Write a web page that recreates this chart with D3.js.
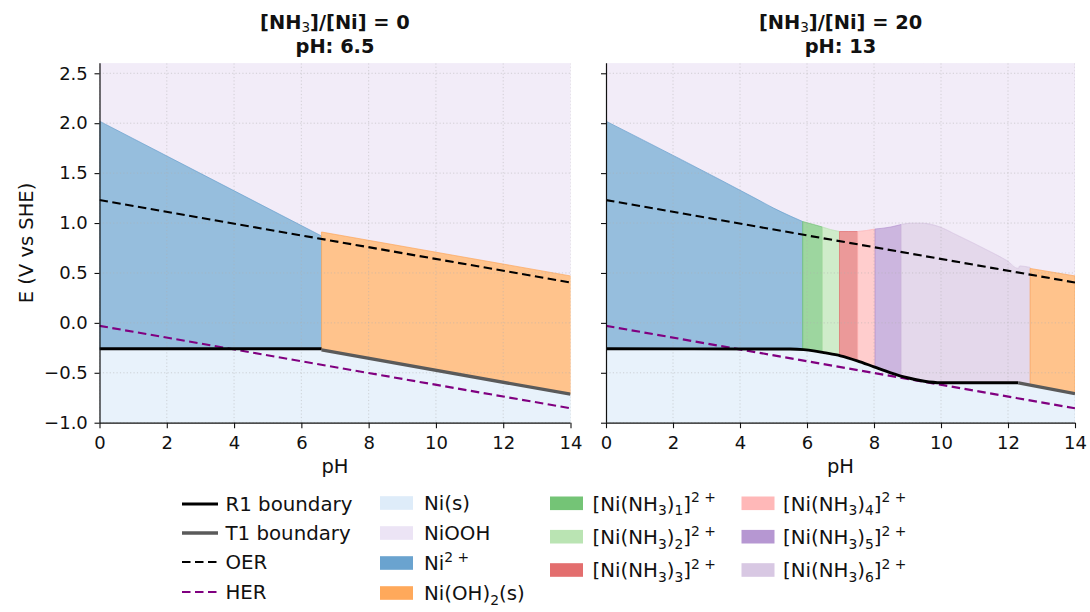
<!DOCTYPE html>
<html><head><meta charset="utf-8">
<script src="https://cdn.jsdelivr.net/npm/d3@7"></script>
<style>
html,body{margin:0;padding:0;background:#fff;}
svg{display:block;font-family:"DejaVu Sans",sans-serif;}
</style></head>
<body><svg id="chart" width="1090" height="612"></svg>
<script>
// ---------------- data ----------------
const phTicks = [0, 2, 4, 6, 8, 10, 12, 14];
const eTicks = [-1.0, -0.5, 0.0, 0.5, 1.0, 1.5, 2.0, 2.5];
const phDomain = [0, 14];
const eDomain = [-1.0, 2.6];
const titlesLine1 = ["[NH_3]/[Ni] = 0", "[NH_3]/[Ni] = 20"];
const titlesLine2 = ["pH: 6.5", "pH: 13"];
const xLabel = "pH";
const yLabel = "E (V vs SHE)";

// water lines
const oerPH = [0, 14];
const oerE = [1.23, 0.404];
const herPH = [0, 14];
const herE = [-0.03, -0.856];

// left panel  [NH3]/[Ni] = 0
const L_Ni2_pH = [0, 6.6];
const L_Ni2_top = [2.02, 0.87];
const L_Ni2_bot = [-0.26, -0.26];
const L_NiOH2_pH = [6.6, 14];
const L_NiOH2_top = [0.91, 0.47];
const L_NiOH2_bot = [-0.27, -0.715];
const L_R1_pH = [0, 6.6];
const L_R1_E = [-0.26, -0.26];
const L_T1_pH = [6.6, 14];
const L_T1_E = [-0.27, -0.715];

// right panel  [NH3]/[Ni] = 20
const R_Ni2_pH = [0, 4.5, 5.0, 5.5, 5.87];
const R_Ni2_top = [2.02, 1.24, 1.15, 1.07, 1.015];
const R_Ni2_bot = [-0.26, -0.26, -0.26, -0.262, -0.267];
const R_N1_pH = [5.87, 6.2, 6.46];
const R_N1_top = [1.015, 0.985, 0.96];
const R_N1_bot = [-0.267, -0.28, -0.296];
const R_N2_pH = [6.46, 6.7, 6.97];
const R_N2_top = [0.96, 0.935, 0.915];
const R_N2_bot = [-0.296, -0.312, -0.328];
const R_N3_pH = [6.97, 7.25, 7.51];
const R_N3_top = [0.915, 0.915, 0.915];
const R_N3_bot = [-0.328, -0.352, -0.381];
const R_N4_pH = [7.51, 7.77, 8.03];
const R_N4_top = [0.915, 0.925, 0.94];
const R_N4_bot = [-0.381, -0.41, -0.443];
const R_N5_pH = [8.03, 8.5, 8.81];
const R_N5_top = [0.94, 0.96, 0.985];
const R_N5_bot = [-0.443, -0.50, -0.532];
const R_N6_pH = [8.81, 9.07, 9.47, 9.97, 10.47, 10.96, 11.46, 11.96, 12.31, 12.35, 12.66];
const R_N6_top = [0.985, 0.998, 0.998, 0.96, 0.88, 0.80, 0.715, 0.625, 0.546, 0.57, 0.555];
const R_N6_bot = [-0.532, -0.556, -0.583, -0.60, -0.60, -0.60, -0.60, -0.60, -0.60, -0.602, -0.62];
const R_NiOH2_pH = [12.66, 14];
const R_NiOH2_top = [0.545, 0.47];
const R_NiOH2_bot = [-0.62, -0.71];
const R_R1_pH = [0, 5.5, 5.9, 6.2, 6.5, 7.0, 7.5, 8.0, 8.5, 9.0, 9.5, 10.0, 12.31];
const R_R1_E = [-0.26, -0.262, -0.268, -0.28, -0.298, -0.33, -0.38, -0.44, -0.50, -0.55, -0.585, -0.60, -0.60];
const R_T1_pH = [12.31, 14];
const R_T1_E = [-0.60, -0.71];

const lineNames = ["R1 boundary", "T1 boundary", "OER", "HER"];
const speciesNames = ["Ni(s)", "NiOOH", "Ni^{2+}", "Ni(OH)_2(s)",
  "[Ni(NH_3)_1]^{2+}", "[Ni(NH_3)_2]^{2+}", "[Ni(NH_3)_3]^{2+}",
  "[Ni(NH_3)_4]^{2+}", "[Ni(NH_3)_5]^{2+}", "[Ni(NH_3)_6]^{2+}"];

// ---------------- styles ----------------
const speciesColor = {
  "Ni(s)": "#deecf9", "NiOOH": "#ece4f5", "Ni^{2+}": "#6aa3cf", "Ni(OH)_2(s)": "#ffa95b",
  "[Ni(NH_3)_1]^{2+}": "#74c476", "[Ni(NH_3)_2]^{2+}": "#bae4b3", "[Ni(NH_3)_3]^{2+}": "#e36e6e",
  "[Ni(NH_3)_4]^{2+}": "#ffb8b8", "[Ni(NH_3)_5]^{2+}": "#b697d2", "[Ni(NH_3)_6]^{2+}": "#d8c8e3"
};
const lineStyle = {
  "R1 boundary": {stroke: "#000", width: 2.9, dash: null},
  "T1 boundary": {stroke: "#5a5a5a", width: 3.3, dash: null},
  "OER": {stroke: "#000", width: 2.1, dash: "8.5,4.5"},
  "HER": {stroke: "#800080", width: 2.1, dash: "8.5,4.5"}
};
const FILL_OP = 0.7;

function zip(ph, top, bot) { return ph.map((p, i) => ({ph: p, top: top[i], bot: bot[i]})); }
function pts(ph, e) { return ph.map((p, i) => ({ph: p, e: e[i]})); }

const panels = [
  {
    x0: 99.5, x1: 570.5, showYLabels: true,
    regions: [
      {name: "Ni^{2+}", d: zip(L_Ni2_pH, L_Ni2_top, L_Ni2_bot)},
      {name: "Ni(OH)_2(s)", d: zip(L_NiOH2_pH, L_NiOH2_top, L_NiOH2_bot)}
    ],
    r1: pts(L_R1_pH, L_R1_E), t1: pts(L_T1_pH, L_T1_E)
  },
  {
    x0: 606, x1: 1075, showYLabels: false,
    regions: [
      {name: "Ni^{2+}", d: zip(R_Ni2_pH, R_Ni2_top, R_Ni2_bot)},
      {name: "[Ni(NH_3)_1]^{2+}", d: zip(R_N1_pH, R_N1_top, R_N1_bot)},
      {name: "[Ni(NH_3)_2]^{2+}", d: zip(R_N2_pH, R_N2_top, R_N2_bot)},
      {name: "[Ni(NH_3)_3]^{2+}", d: zip(R_N3_pH, R_N3_top, R_N3_bot)},
      {name: "[Ni(NH_3)_4]^{2+}", d: zip(R_N4_pH, R_N4_top, R_N4_bot)},
      {name: "[Ni(NH_3)_5]^{2+}", d: zip(R_N5_pH, R_N5_top, R_N5_bot)},
      {name: "[Ni(NH_3)_6]^{2+}", d: zip(R_N6_pH, R_N6_top, R_N6_bot)},
      {name: "Ni(OH)_2(s)", d: zip(R_NiOH2_pH, R_NiOH2_top, R_NiOH2_bot)}
    ],
    r1: pts(R_R1_pH, R_R1_E), t1: pts(R_T1_pH, R_T1_E)
  }
];

// ---------------- rich text helper ----------------
function parseRich(str) {
  const parts = []; let buf = ""; let i = 0;
  while (i < str.length) {
    const c = str[i];
    if (c === "_") { if (buf) { parts.push({t: buf, k: "n"}); buf = ""; } parts.push({t: str[i + 1], k: "sub"}); i += 2; }
    else if (c === "^" && str[i + 1] === "{") {
      if (buf) { parts.push({t: buf, k: "n"}); buf = ""; }
      const j = str.indexOf("}", i);
      let s = str.slice(i + 2, j).replace("+", " +");
      parts.push({t: s, k: "sup"}); i = j + 1;
    } else { buf += c; i++; }
  }
  if (buf) parts.push({t: buf, k: "n"});
  return parts;
}
function richText(textSel, str, fs, scriptWeight, subShift) {
  const parts = parseRich(str);
  let shift = 0;
  const ss = subShift === undefined ? 0.24 : subShift;
  parts.forEach(p => {
    let target = 0, size = fs;
    if (p.k === "sub") { target = ss * fs; size = 0.7 * fs; }
    if (p.k === "sup") { target = -0.42 * fs; size = 0.7 * fs; }
    const ts = textSel.append("tspan").attr("dy", (target - shift).toFixed(2)).attr("font-size", size).text(p.t);
    if (p.k !== "n" && scriptWeight) ts.attr("font-weight", scriptWeight);
    shift = target;
  });
  return shift;
}

// ---------------- draw ----------------
const svg = d3.select("#chart");
const yTop = 63.3, yBot = 422.7;
const y = d3.scaleLinear().domain(eDomain).range([yBot, yTop]);

panels.forEach((P, pi) => {
  const x = d3.scaleLinear().domain(phDomain).range([P.x0, P.x1]);
  const g = svg.append("g");
  const clipId = "clip" + pi;
  svg.append("clipPath").attr("id", clipId).append("rect")
    .attr("x", P.x0).attr("y", yTop).attr("width", P.x1 - P.x0).attr("height", yBot - yTop);
  const pg = g.append("g").attr("clip-path", `url(#${clipId})`);

  // background phases: NiOOH above region tops, Ni(s) below region bottoms
  const tops = [], bots = [];
  P.regions.forEach(r => r.d.forEach(p => { tops.push(p); bots.push(p); }));
  const areaUp = d3.area().x(d => x(d.ph)).y0(y(eDomain[1])).y1(d => y(d.top));
  const areaDn = d3.area().x(d => x(d.ph)).y0(y(eDomain[0])).y1(d => y(d.bot));
  pg.append("path").datum(tops).attr("d", areaUp)
    .attr("fill", speciesColor["NiOOH"]).attr("fill-opacity", FILL_OP)
    .attr("stroke", speciesColor["NiOOH"]).attr("stroke-opacity", FILL_OP).attr("stroke-width", 1);
  pg.append("path").datum(bots).attr("d", areaDn)
    .attr("fill", speciesColor["Ni(s)"]).attr("fill-opacity", FILL_OP)
    .attr("stroke", speciesColor["Ni(s)"]).attr("stroke-opacity", FILL_OP).attr("stroke-width", 1);

  const areaR = d3.area().x(d => x(d.ph)).y0(d => y(d.bot)).y1(d => y(d.top)).curve(d3.curveMonotoneX);
  P.regions.forEach(r => {
    pg.append("path").datum(r.d).attr("d", areaR)
      .attr("fill", speciesColor[r.name]).attr("fill-opacity", FILL_OP)
      .attr("stroke", speciesColor[r.name]).attr("stroke-opacity", FILL_OP).attr("stroke-width", 1);
  });

  // grid
  const grid = pg.append("g").attr("stroke", "#b0b0b0").attr("stroke-opacity", 0.55)
    .attr("stroke-width", 0.9).attr("stroke-dasharray", "1.2,2.2");
  phTicks.forEach(t => grid.append("line").attr("x1", x(t)).attr("x2", x(t)).attr("y1", yTop).attr("y2", yBot));
  eTicks.forEach(t => grid.append("line").attr("x1", P.x0).attr("x2", P.x1).attr("y1", y(t)).attr("y2", y(t)));

  const ln = d3.line().x(d => x(d.ph)).y(d => y(d.e)).curve(d3.curveMonotoneX);
  function drawLine(data, key) {
    const s = lineStyle[key];
    const p = pg.append("path").datum(data).attr("d", ln).attr("fill", "none")
      .attr("stroke", s.stroke).attr("stroke-width", s.width);
    if (s.dash) p.attr("stroke-dasharray", s.dash);
  }
  drawLine(pts(oerPH, oerE), "OER");
  drawLine(pts(herPH, herE), "HER");
  drawLine(P.r1, "R1 boundary");
  drawLine(P.t1, "T1 boundary");

  // axes
  const xAxis = d3.axisBottom(x).tickValues(phTicks).tickFormat(d3.format("d")).tickSize(5.5).tickPadding(8.5).tickSizeOuter(0);
  const gx = g.append("g").attr("transform", `translate(0,${yBot})`).call(xAxis);
  const yAxis = d3.axisLeft(y).tickValues(eTicks).tickFormat(P.showYLabels ? d3.format(".1f") : () => "")
    .tickSize(5).tickPadding(6.7).tickSizeOuter(0);
  const gy = g.append("g").attr("transform", `translate(${P.x0},0)`).call(yAxis);
  [gx, gy].forEach(a => {
    a.attr("font-family", "DejaVu Sans, sans-serif").attr("font-size", 18);
    a.selectAll("text").attr("fill", "#111");
    a.selectAll("line").attr("stroke", "#111").attr("stroke-width", 1.1);
    a.select(".domain").attr("stroke", "#111").attr("stroke-width", 1.2);
  });
  gy.select(".domain").attr("d", `M0.5,${yTop}V${yBot}`);
  gx.select(".domain").attr("d", `M${P.x0},0.5H${P.x1}`);

  // x label
  svg.append("text").attr("x", (P.x0 + P.x1) / 2).attr("y", 473).attr("text-anchor", "middle")
    .attr("font-size", 19.5).attr("fill", "#111").text(xLabel);

  // two-line title as one text element
  const cx = (P.x0 + P.x1) / 2;
  const TFS = 19.4;
  const tt = svg.append("text").attr("x", cx).attr("y", 28.8).attr("text-anchor", "middle")
    .attr("font-size", TFS).attr("font-weight", "bold").attr("fill", "#111");
  const l1 = tt.append("tspan").attr("x", cx);
  const endShift = richText(l1, titlesLine1[pi], TFS, "normal", 0.18);
  tt.append("tspan").attr("x", cx).attr("dy", (24 - endShift).toFixed(2)).text(titlesLine2[pi]);
});

// y label
svg.append("text").attr("transform", "translate(33,243) rotate(-90)").attr("text-anchor", "middle")
  .attr("font-size", 19.5).attr("fill", "#111").text(yLabel);

// ---------------- legend ----------------
const LFS = 19.8;
const leg = svg.append("g").attr("font-size", LFS).attr("fill", "#111");
const col1Rows = [504, 533, 562, 592];
lineNames.forEach((n, i) => {
  const s = lineStyle[n];
  const l = leg.append("line").attr("x1", 182).attr("x2", 218).attr("y1", col1Rows[i]).attr("y2", col1Rows[i])
    .attr("stroke", s.stroke).attr("stroke-width", s.width);
  if (s.dash) l.attr("stroke-dasharray", s.dash);
  leg.append("text").attr("x", 225.5).attr("y", col1Rows[i] + 7.2).text(n);
});
const cols = [
  {sx: 380, tx: 424, rows: [503, 533, 563, 593], items: speciesNames.slice(0, 4)},
  {sx: 550, tx: 592.5, rows: [503.3, 536.7, 570], items: speciesNames.slice(4, 7)},
  {sx: 741.5, tx: 783, rows: [503.3, 536.7, 570], items: speciesNames.slice(7, 10)}
];
cols.forEach(c => {
  c.items.forEach((n, i) => {
    leg.append("rect").attr("x", c.sx).attr("y", c.rows[i] - 6.8).attr("width", 33).attr("height", 13.6)
      .attr("fill", speciesColor[n]);
    const t = leg.append("text").attr("x", c.tx).attr("y", c.rows[i] + 7.2);
    richText(t, n, LFS, null);
  });
});
</script>
</body></html>
